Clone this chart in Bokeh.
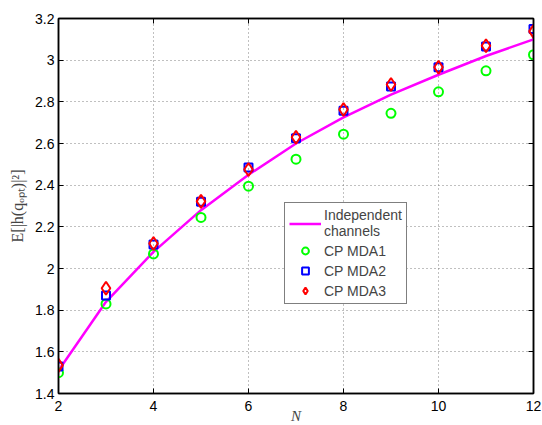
from bokeh.plotting import figure
from bokeh.models import Range1d, LinearAxis, FixedTicker, Legend, LegendItem
from bokeh.embed import file_html
from bokeh.resources import INLINE

N = [2, 3, 4, 5, 6, 7, 8, 9, 10, 11, 12]
indep = [1.51, 1.84, 2.08, 2.28, 2.45, 2.60, 2.725, 2.835, 2.93, 3.02, 3.10]
mda1 = [1.50, 1.83, 2.07, 2.245, 2.395, 2.525, 2.645, 2.745, 2.848, 2.949, 3.026]
mda2 = [1.53, 1.87, 2.115, 2.32, 2.485, 2.625, 2.757, 2.874, 2.966, 3.066, 3.15]
mda3 = [1.535, 1.905, 2.12, 2.322, 2.475, 2.63, 2.763, 2.883, 2.966, 3.069, 3.138]

xticks = [2, 4, 6, 8, 10, 12]
yticks = [1.4, 1.6, 1.8, 2.0, 2.2, 2.4, 2.6, 2.8, 3.0, 3.2]
ytick_labels = {1.4: "1.4", 1.6: "1.6", 1.8: "1.8", 2.0: "2", 2.2: "2.2", 2.4: "2.4",
                2.6: "2.6", 2.8: "2.8", 3.0: "3", 3.2: "3.2"}

p = figure(frame_width=475, frame_height=375, output_backend="svg", toolbar_location=None,
           x_range=Range1d(2, 12), y_range=Range1d(1.4, 3.2),
           min_border_left=58, min_border_right=9, min_border_top=18, min_border_bottom=32)
p.background_fill_color = "white"
p.border_fill_color = "white"
p.outline_line_color = "black"
p.outline_line_width = 1.5

for ax in [p.xaxis[0], p.yaxis[0]]:
    ax.major_tick_in = 5
    ax.major_tick_out = 0
    ax.minor_tick_in = 0
    ax.minor_tick_out = 0
    ax.axis_line_width = 1.5
    ax.major_tick_line_width = 1
    ax.major_label_text_font = "Liberation Sans"
    ax.major_label_text_font_size = "14px"
    ax.major_label_text_color = "black"
    ax.major_label_standoff = 4
    ax.axis_label_text_font = "Liberation Serif"
    ax.axis_label_text_font_style = "italic"
    ax.axis_label_text_font_size = "16px"

p.xaxis[0].ticker = FixedTicker(ticks=xticks)
p.yaxis[0].ticker = FixedTicker(ticks=yticks)
p.yaxis[0].major_label_overrides = ytick_labels
p.xaxis[0].axis_label = "N"
p.xaxis[0].major_label_standoff = 7
p.xaxis[0].axis_label_standoff = -6
p.xaxis[0].axis_label_text_font_size = "15px"
p.yaxis[0].axis_label = "E[|h(qₒₚₜ)|²]"
p.yaxis[0].axis_label_text_font_style = "normal"
p.yaxis[0].axis_label_standoff = 6

top = LinearAxis(ticker=FixedTicker(ticks=xticks), major_tick_in=5, major_tick_out=0,
                 minor_tick_in=0, minor_tick_out=0,
                 major_label_overrides={t: "" for t in xticks},
                 major_label_standoff=0, axis_line_width=1.5)
right = LinearAxis(ticker=FixedTicker(ticks=yticks), major_tick_in=5, major_tick_out=0,
                   minor_tick_in=0, minor_tick_out=0,
                   major_label_overrides={t: "" for t in yticks},
                   major_label_standoff=0, axis_line_width=1.5)
p.add_layout(top, "above")
p.add_layout(right, "right")

p.xgrid.ticker = FixedTicker(ticks=xticks)
p.ygrid.ticker = FixedTicker(ticks=yticks)
for g in [p.xgrid[0], p.ygrid[0]]:
    g.grid_line_color = "#808080"
    g.grid_line_dash = "1 3"
    g.grid_line_width = 1

r0 = p.line(N, indep, line_color="#ff00ff", line_width=2.5)
r1 = p.scatter(N, mda1, marker="circle", size=9, fill_color=None,
               line_color="#00ff00", line_width=2)
r2 = p.scatter(N, mda2, marker="square", size=8, fill_color=None,
               line_color="#0000ff", line_width=2)
r3 = p.scatter(N, mda3, marker="diamond", size=13, fill_color=None,
               line_color="#ff0000", line_width=2)

legend = Legend(items=[
    LegendItem(label="Independent\nchannels", renderers=[r0]),
    LegendItem(label="CP MDA1", renderers=[r1]),
    LegendItem(label="CP MDA2", renderers=[r2]),
    LegendItem(label="CP MDA3", renderers=[r3]),
], location=(226, 89))
legend.label_text_font = "Liberation Sans"
legend.label_text_font_size = "14px"
legend.label_height = 17
legend.glyph_height = 17
legend.glyph_width = 32
legend.label_standoff = 3
legend.spacing = 3
legend.padding = 4
legend.margin = 0
legend.border_line_color = "black"
legend.border_line_width = 1
legend.background_fill_alpha = 1
p.add_layout(legend, "center")

open("out.html", "w").write(file_html(p, INLINE))
